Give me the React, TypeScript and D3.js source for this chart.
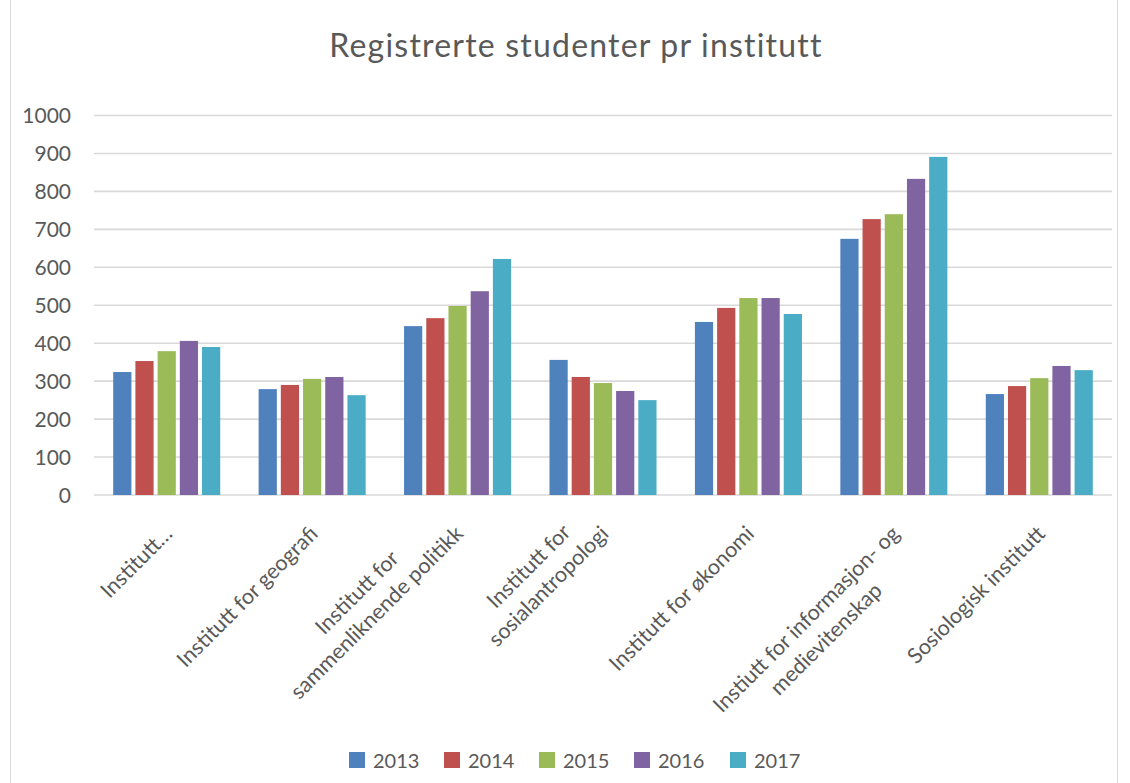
import React, { useEffect, useRef } from 'react';
import * as d3 from 'd3';

// data
const years = ['2013', '2014', '2015', '2016', '2017'];
const categories = [
  'Institutt…',
  'Institutt for geografi',
  'Institutt for\nsammenliknende politikk',
  'Institutt for\nsosialantropologi',
  'Institutt for økonomi',
  'Instiutt for informasjon- og\nmedievitenskap',
  'Sosiologisk institutt',
];
const v2013 = [324, 279, 445, 356, 456, 675, 266];
const v2014 = [353, 290, 466, 311, 493, 727, 287];
const v2015 = [379, 306, 498, 295, 519, 740, 308];
const v2016 = [406, 311, 537, 274, 519, 833, 340];
const v2017 = [390, 263, 622, 250, 477, 891, 329];
const yTicks = [0, 100, 200, 300, 400, 500, 600, 700, 800, 900, 1000];
const colors = ['#4F81BD', '#C0504D', '#9BBB59', '#8064A2', '#4BACC6'];

const W = 1130;
const H = 783;
const FONT = 'Lato, sans-serif';
const TEXT = '#595959';

function App() {
  const ref = useRef<SVGSVGElement>(null);

  useEffect(() => {
    const svg = d3.select(ref.current);
    svg.selectAll('*').remove();

    const series = [v2013, v2014, v2015, v2016, v2017];
    const left = 94, right = 1112, top = 115.5, bottom = 495;

    // chart frame
    svg.append('rect')
      .attr('x', 10.5).attr('y', -2)
      .attr('width', 1107).attr('height', H + 4)
      .attr('fill', 'white')
      .attr('stroke', '#d9d9d9');

    svg.append('text')
      .attr('x', 576).attr('y', 57)
      .attr('text-anchor', 'middle')
      .attr('font-family', FONT)
      .attr('font-size', 32)
      .attr('letter-spacing', 1.2)
      .attr('fill', TEXT)
      .text('Registrerte studenter pr institutt');

    const x0 = d3.scaleBand<number>()
      .domain(d3.range(categories.length))
      .range([left, right])
      .paddingInner(0.264)
      .paddingOuter(0.132);
    const x1 = d3.scaleBand<number>()
      .domain(d3.range(years.length))
      .range([0, x0.bandwidth()])
      .paddingInner(0.18);
    const y = d3.scaleLinear().domain([0, 1000]).range([bottom, top]);

    // grid + y labels
    svg.append('g').selectAll('line')
      .data(yTicks)
      .join('line')
      .attr('x1', left).attr('x2', right)
      .attr('y1', d => y(d)).attr('y2', d => y(d))
      .attr('stroke', '#d9d9d9')
      .attr('stroke-width', 1.6);
    svg.append('g').selectAll('text')
      .data(yTicks)
      .join('text')
      .attr('x', 71)
      .attr('y', d => y(d))
      .attr('dy', '0.36em')
      .attr('text-anchor', 'end')
      .attr('font-family', FONT)
      .attr('font-size', 21)
      .attr('fill', TEXT)
      .text(d => String(d));

    // bars
    const groups = svg.append('g').selectAll('g')
      .data(categories.map((_, i) => i))
      .join('g')
      .attr('transform', i => `translate(${x0(i)},0)`);
    groups.selectAll('rect')
      .data(i => series.map((s, k) => ({ k, v: s[i] })))
      .join('rect')
      .attr('x', d => x1(d.k) as number)
      .attr('width', x1.bandwidth())
      .attr('y', d => y(d.v))
      .attr('height', d => bottom - y(d.v))
      .attr('fill', d => colors[d.k]);

    // category labels, rotated -45, longest line ends at the anchor
    const lineH = 28;
    categories.forEach((c, i) => {
      const lines = c.split('\n');
      const cx = (x0(i) as number) + x0.bandwidth() / 2;
      const g = svg.append('g')
        .attr('transform', `translate(${cx + 7},535) rotate(-45)`);
      const texts = lines.map(l =>
        g.append('text')
          .attr('font-family', FONT)
          .attr('font-size', 21.5)
          .attr('fill', TEXT)
          .attr('text-anchor', 'middle')
          .text(l));
      const widths = texts.map(t => (t.node() as SVGTextElement).getComputedTextLength());
      const wMax = d3.max(widths) as number;
      const iLong = widths.indexOf(wMax);
      texts.forEach((t, j) => {
        t.attr('x', -wMax / 2).attr('y', (j - iLong) * lineH);
      });
    });

    // legend
    const legX = [349, 444, 539, 634, 730];
    const leg = svg.append('g').selectAll('g')
      .data(years)
      .join('g')
      .attr('transform', (_, k) => `translate(${legX[k]},752)`);
    leg.append('rect')
      .attr('width', 16).attr('height', 16)
      .attr('fill', (_, k) => colors[k]);
    leg.append('text')
      .attr('x', 24).attr('y', 16)
      .attr('font-family', FONT)
      .attr('font-size', 20)
      .attr('fill', TEXT)
      .text(d => d);
  }, []);

  return (
    <svg ref={ref} width={W} height={H}
      style={{ position: 'absolute', left: 0, top: 0, background: 'white' }} />
  );
}

export default App;
